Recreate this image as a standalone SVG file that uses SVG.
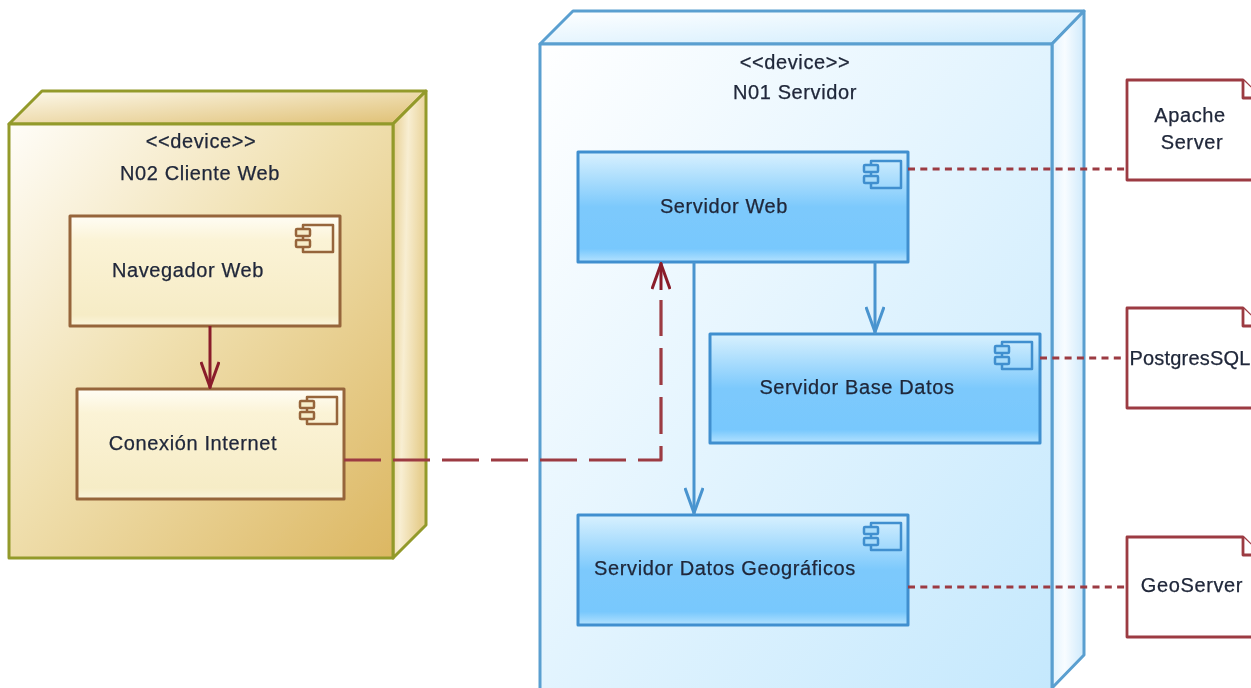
<svg xmlns="http://www.w3.org/2000/svg" width="1251" height="688" viewBox="0 0 1251 688">
<style>
text{font-family:"Liberation Sans",Arial,sans-serif;font-size:20px;letter-spacing:.62px;fill:#20283a;stroke:#20283a;stroke-width:.25px;text-anchor:middle}
.t{stroke:#939a2c;stroke-width:3;stroke-linejoin:round}
.b{stroke:#5a9fd0;stroke-width:3;stroke-linejoin:round}
.tc{fill:url(#tanComp);stroke:#96653a;stroke-width:3;stroke-linejoin:round}
.bc{fill:url(#blueComp);stroke:#3f8fcf;stroke-width:3;stroke-linejoin:round}
.ti{fill:none;stroke:#96653a;stroke-width:2.5;stroke-linejoin:round}
.ti2{fill:#f7eecb;stroke:#96653a;stroke-width:2.5}
.bi{fill:none;stroke:#3f8fcf;stroke-width:2.5;stroke-linejoin:round}
.bi2{fill:#a9dcfb;stroke:#3f8fcf;stroke-width:2.5}
.n{fill:#fff;stroke:#9c3a42;stroke-width:2.8;stroke-linejoin:round}
.dot{fill:none;stroke:#9c3a42;stroke-width:3;stroke-dasharray:7 5.300}
.blue{fill:none;stroke:#4a94cf;stroke-width:3}
.red{fill:none;stroke:#8a1f2c;stroke-width:3}
.dash{fill:none;stroke:#9c3a42;stroke-width:3.200;stroke-dasharray:37 12;stroke-linejoin:round}
</style>
<defs>
<filter id="soft" x="0" y="0" width="1251" height="688" filterUnits="userSpaceOnUse"><feGaussianBlur stdDeviation="0.7"/></filter>
<linearGradient id="tanFront" x1="0" y1="0" x2="1" y2="1"><stop offset="0" stop-color="#fffdf8"/><stop offset="0.45" stop-color="#f0e0b0"/><stop offset="1" stop-color="#dcb762"/></linearGradient>
<linearGradient id="tanTop" x1="0" y1="0" x2="1" y2="1"><stop offset="0" stop-color="#fdf9ec"/><stop offset="1" stop-color="#dfbf72"/></linearGradient>
<linearGradient id="tanSide" x1="0" y1="0" x2="1" y2="0.3"><stop offset="0" stop-color="#e6cd8e"/><stop offset="0.45" stop-color="#f8eed2"/><stop offset="1" stop-color="#e7cf90"/></linearGradient>
<linearGradient id="blueFront" x1="0" y1="0" x2="1" y2="1"><stop offset="0" stop-color="#ffffff"/><stop offset="1" stop-color="#c4e8fd"/></linearGradient>
<linearGradient id="blueTop" x1="0" y1="0" x2="1" y2="1"><stop offset="0" stop-color="#ffffff"/><stop offset="1" stop-color="#cdebfd"/></linearGradient>
<linearGradient id="blueSide" x1="0" y1="0" x2="1" y2="0"><stop offset="0" stop-color="#e2f3fe"/><stop offset="0.4" stop-color="#f8fcff"/><stop offset="1" stop-color="#cfeafc"/></linearGradient>
<linearGradient id="tanComp" x1="0" y1="0" x2="0" y2="1"><stop offset="0" stop-color="#fffdf5"/><stop offset="0.22" stop-color="#fbf3d6"/><stop offset="0.9" stop-color="#f6ecc6"/><stop offset="1" stop-color="#fbf5dc"/></linearGradient>
<linearGradient id="blueComp" x1="0" y1="0" x2="0" y2="1"><stop offset="0" stop-color="#d9f1fe"/><stop offset="0.5" stop-color="#7cc9fc"/><stop offset="0.88" stop-color="#78c8fd"/><stop offset="1" stop-color="#b4e2fe"/></linearGradient>
<marker id="openRed" viewBox="0 0 28 20" refX="27" refY="10" markerWidth="28" markerHeight="20" markerUnits="userSpaceOnUse" orient="auto"><path d="M1 1 L26 10 L1 19" fill="none" stroke="#8a1f2c" stroke-width="3"/></marker>
<marker id="openBlue" viewBox="0 0 28 20" refX="27" refY="10" markerWidth="28" markerHeight="20" markerUnits="userSpaceOnUse" orient="auto"><path d="M1 1 L26 10 L1 19" fill="none" stroke="#4a94cf" stroke-width="3"/></marker>
<g id="iconT"><path class="ti" d="M7 4V0H37V27H7V23"/><path class="ti" d="M7 8.500V15"/><rect class="ti2" x="0" y="4" width="14" height="7" rx="1"/><rect class="ti2" x="0" y="15" width="14" height="7" rx="1"/></g>
<g id="iconB"><path class="bi" d="M7 4V0H37V27H7V23"/><path class="bi" d="M7 8.500V15"/><rect class="bi2" x="0" y="4" width="14" height="7" rx="1"/><rect class="bi2" x="0" y="15" width="14" height="7" rx="1"/></g>
</defs>
<rect width="1251" height="688" fill="#fff"/>
<g filter="url(#soft)">
<g id="node-n02-cliente-web">
<path class="t" fill="url(#tanTop)" d="M9 124L42 91H426L393 124Z"/>
<path class="t" fill="url(#tanSide)" d="M393 124L426 91V525L393 558Z"/>
<rect class="t" fill="url(#tanFront)" x="9" y="124" width="384" height="434"/>
<text x="201" y="148">&lt;&lt;device&gt;&gt;</text>
<text x="200" y="180">N02 Cliente Web</text>
</g>
<g id="node-n01-servidor">
<path class="b" fill="url(#blueTop)" d="M540 44L573 11H1084L1052 44Z"/>
<path class="b" fill="url(#blueSide)" d="M1052 44L1084 11V655L1052 688Z"/>
<rect class="b" fill="url(#blueFront)" x="540" y="44" width="512" height="660"/>
<text x="795" y="69">&lt;&lt;device&gt;&gt;</text>
<text x="795" y="99">N01 Servidor</text>
</g>
<g id="node-navegador-web">
<rect class="tc" x="70" y="216" width="270" height="110"/>
<use href="#iconT" x="296" y="225"/>
<text x="188" y="277">Navegador Web</text>
</g>
<g id="node-conexion-internet">
<rect class="tc" x="77" y="389" width="267" height="110"/>
<use href="#iconT" x="300" y="397"/>
<text x="193" y="450">Conexión Internet</text>
</g>
<g id="node-servidor-web">
<rect class="bc" x="578" y="152" width="330" height="110"/>
<use href="#iconB" x="864" y="161"/>
<text x="724" y="213">Servidor Web</text>
</g>
<g id="node-servidor-base-datos">
<rect class="bc" x="710" y="334" width="330" height="109"/>
<use href="#iconB" x="995" y="342"/>
<text x="857" y="394">Servidor Base Datos</text>
</g>
<g id="node-servidor-datos-geograficos">
<rect class="bc" x="578" y="515" width="330" height="110"/>
<use href="#iconB" x="864" y="523"/>
<text x="725" y="575">Servidor Datos Geográficos</text>
</g>
<g id="node-apache-server">
<path class="n" d="M1127 180V80H1243L1262 99V180Z"/>
<path class="n" d="M1243 80V98H1262"/>
<text x="1190" y="122">Apache</text>
<text x="1192" y="149">Server</text>
</g>
<g id="node-postgressql">
<path class="n" d="M1127 408V308H1243L1262 327V408Z"/>
<path class="n" d="M1243 308V326H1262"/>
<text x="1190" y="365" style="letter-spacing:.2px">PostgresSQL</text>
</g>
<g id="node-geoserver">
<path class="n" d="M1127 637V537H1243L1262 556V637Z"/>
<path class="n" d="M1243 537V555H1262"/>
<text x="1192" y="592">GeoServer</text>
</g>
<g id="connectors">
<path class="red" marker-end="url(#openRed)" d="M210 326V388"/>
<path class="blue" marker-end="url(#openBlue)" d="M875 262V333"/>
<path class="blue" marker-end="url(#openBlue)" d="M694 262V514"/>
<path class="dash" d="M344 460H661V300"/>
<path class="red" marker-end="url(#openRed)" d="M661 290V263"/>
<path class="dot" d="M908 169H1127"/>
<path class="dot" d="M1040 358H1127"/>
<path class="dot" d="M908 587H1127"/>
</g>
</g>
</svg>
